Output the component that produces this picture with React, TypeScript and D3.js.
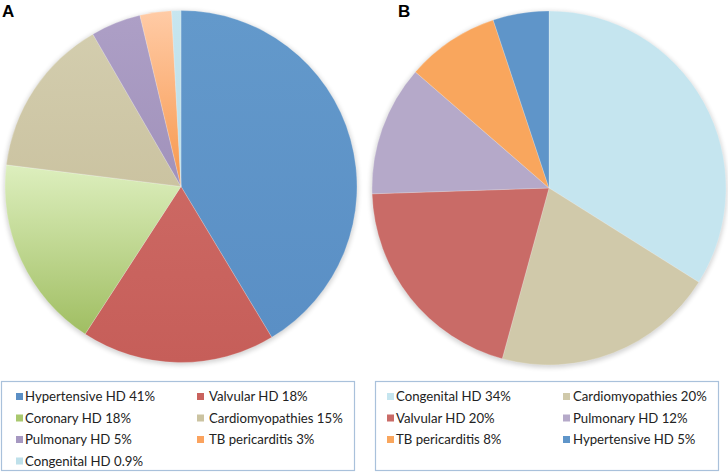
import React from "react";
import * as d3 from "d3";

const catsA = ["Hypertensive HD", "Valvular HD", "Coronary HD", "Cardiomyopathies", "Pulmonary HD", "TB pericarditis", "Congenital HD"];
const valsA = [41.4, 17.8, 17.8, 14.7, 4.6, 2.9, 0.85];
const pctA = ["41%", "18%", "18%", "15%", "5%", "3%", "0.9%"];

const catsB = ["Congenital HD", "Cardiomyopathies", "Valvular HD", "Pulmonary HD", "TB pericarditis", "Hypertensive HD"];
const valsB = [33.9, 20.3, 20.2, 11.9, 8.5, 5.1];
const pctB = ["34%", "20%", "20%", "12%", "8%", "5%"];

// fill styles: [top, bottom]
const fillA: Record<string, [string, string]> = {
  "Hypertensive HD": ["#6399CB", "#5A8FC5"],
  "Valvular HD": ["#CC6863", "#C65E59"],
  "Coronary HD": ["#DDEFBE", "#A0BE62"],
  "Cardiomyopathies": ["#D3CDAE", "#CBC3A1"],
  "Pulmonary HD": ["#AD9FC6", "#A192BB"],
  "TB pericarditis": ["#FFCBA6", "#F7974C"],
  "Congenital HD": ["#C7E6EF", "#B9DDE8"],
};
const fillB: Record<string, string> = {
  "Congenital HD": "#C5E5EF",
  "Cardiomyopathies": "#D0C9AA",
  "Valvular HD": "#C96B67",
  "Pulmonary HD": "#B5A9C9",
  "TB pericarditis": "#F9A65D",
  "Hypertensive HD": "#5F95C9",
};
const swatchA: Record<string, string> = {
  "Hypertensive HD": "#5B8FC5",
  "Valvular HD": "#C9625D",
  "Coronary HD": "#A9C86E",
  "Cardiomyopathies": "#CBC3A1",
  "Pulmonary HD": "#A698C1",
  "TB pericarditis": "#FBA35E",
  "Congenital HD": "#BEE0EA",
};

const pieGen = d3.pie<number>().sort(null).startAngle(0).endAngle(2 * Math.PI);

function Pie({ cx, cy, r, cats, vals, id, fills }: any) {
  const arcs = pieGen(vals);
  const arc = d3.arc<d3.PieArcDatum<number>>().innerRadius(0).outerRadius(r);
  return (
    <g transform={`translate(${cx},${cy})`}>
      <defs>
        <filter id={`sh${id}`} x="-10%" y="-10%" width="120%" height="120%">
          <feGaussianBlur stdDeviation="2.5" />
        </filter>
        {cats.map((c: string, i: number) => (
          <linearGradient key={c} id={`g${id}${i}`} x1="0" y1="0" x2="0" y2="1">
            <stop offset="0" stopColor={fills(c)[0]} />
            <stop offset="1" stopColor={fills(c)[1]} />
          </linearGradient>
        ))}
      </defs>
      <circle cx={0} cy={1.5} r={r + 1} fill="#000" opacity={0.18} filter={`url(#sh${id})`} />
      {arcs.map((a, i) => (
        <path key={i} d={arc(a) || ""} fill={`url(#g${id}${i})`} stroke="rgba(255,255,255,0.35)" strokeWidth={0.6} />
      ))}
    </g>
  );
}

function Legend({ x, y, w, h, cats, pcts, colors, cols }: any) {
  return (
    <g>
      <rect x={x + 0.5} y={y + 0.5} width={w} height={h} fill="#fff" stroke="#A9C1DB" strokeWidth={1.2} />
      {cats.map((c: string, i: number) => {
        const col = cols[i % 2];
        const row = Math.floor(i / 2);
        const base = y + 20 + row * 21.5;
        return (
          <g key={c}>
            <rect x={col[0]} y={base - 8} width={7} height={7} fill={colors[c]} />
            <text x={col[1]} y={base} fontFamily="Lato, 'Open Sans', sans-serif" fontSize={13.2} fill="#222">
              {`${c} ${pcts[i]}`}
            </text>
          </g>
        );
      })}
    </g>
  );
}

export default function App() {
  return (
    <div style={{ position: "absolute", left: 0, top: 0 }}>
      <svg width={728} height={472} style={{ display: "block", background: "#fff" }}>
        <Pie cx={181} cy={186.5} r={176} cats={catsA} vals={valsA} id="A" fills={(c: string) => fillA[c]} />
        <Pie cx={549} cy={188} r={177} cats={catsB} vals={valsB} id="B" fills={(c: string) => [fillB[c], fillB[c]]} />
        <text x={2} y={17} fontFamily="Arial, 'Liberation Sans', sans-serif" fontWeight="bold" fontSize={17} fill="#000">A</text>
        <text x={398} y={17} fontFamily="Arial, 'Liberation Sans', sans-serif" fontWeight="bold" fontSize={17} fill="#000">B</text>
        <Legend x={1} y={381} w={353} h={89} cats={catsA} pcts={pctA} colors={swatchA} cols={[[16, 25], [197, 209]]} />
        <Legend x={375} y={381} w={343} h={89} cats={catsB} pcts={pctB} colors={fillB} cols={[[387, 396], [563, 573]]} />
      </svg>
    </div>
  );
}
